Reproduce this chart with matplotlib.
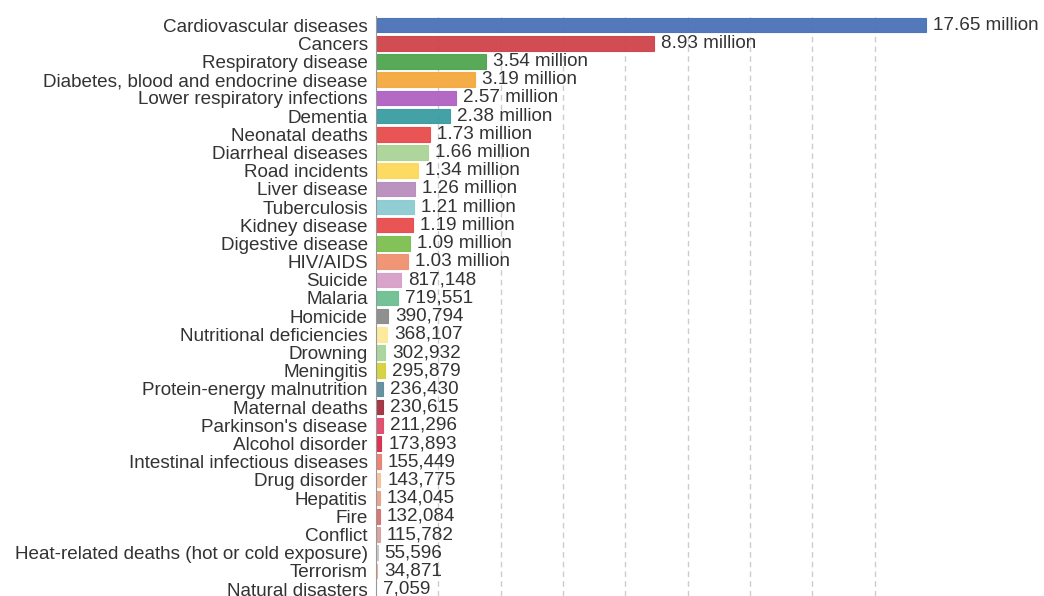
import matplotlib
matplotlib.use("Agg")
import matplotlib.pyplot as plt
import numpy as np

# Causes of death, largest first
causes = [
    "Cardiovascular diseases", "Cancers", "Respiratory disease",
    "Diabetes, blood and endocrine disease", "Lower respiratory infections",
    "Dementia", "Neonatal deaths", "Diarrheal diseases", "Road incidents",
    "Liver disease", "Tuberculosis", "Kidney disease", "Digestive disease",
    "HIV/AIDS", "Suicide", "Malaria", "Homicide", "Nutritional deficiencies",
    "Drowning", "Meningitis", "Protein-energy malnutrition", "Maternal deaths",
    "Parkinson's disease", "Alcohol disorder", "Intestinal infectious diseases",
    "Drug disorder", "Hepatitis", "Fire", "Conflict",
    "Heat-related deaths (hot or cold exposure)", "Terrorism", "Natural disasters",
]
deaths = [
    17650000, 8930000, 3540000, 3190000, 2570000, 2380000, 1730000, 1660000,
    1340000, 1260000, 1210000, 1190000, 1090000, 1030000, 817148, 719551,
    390794, 368107, 302932, 295879, 236430, 230615, 211296, 173893, 155449,
    143775, 134045, 132084, 115782, 55596, 34871, 7059,
]
bar_colors = [
    "#4a72b8", "#d0424a", "#4fa64f", "#f5a93e", "#b062c2", "#3a9ca0",
    "#e84b4b", "#aad396", "#fdd85a", "#b98cbd", "#8ccbd1", "#e84b4b",
    "#7cbf4f", "#f09070", "#d69fc8", "#6cbf8f", "#8a8a8a", "#fde99a",
    "#a8d49a", "#d4d13a", "#5f8c9a", "#a0303e", "#e04a6a", "#d82a4a",
    "#e88070", "#f8c09a", "#e8a088", "#d87070", "#d8a0a0", "#c8c8c8",
    "#f0b090", "#d0d0d0",
]


def fmt(v):
    # millions get a short label, the rest use thousands separators
    if v >= 1e6:
        return f"{v / 1e6:.2f} million"
    return f"{v:,}"


plt.rcParams["font.family"] = ["Liberation Sans", "DejaVu Sans"]
fsize = 13.6

fig = plt.figure(figsize=(10.44, 5.96), dpi=100)
ax = fig.add_axes([376 / 1044, 0, 558 / 1044, 580 / 596])

y = np.arange(len(causes))
ax.barh(y, deaths, height=0.8, color=bar_colors, alpha=0.95,
        edgecolor=bar_colors, linewidth=0.8, zorder=3)

for yi, v in zip(y, deaths):
    ax.annotate(fmt(v), (v, yi), xytext=(5, 0), textcoords="offset points",
                va="center", ha="left", fontsize=fsize, color="#333333",
                zorder=4, annotation_clip=False)

ax.set_yticks(y)
ax.set_yticklabels(causes, fontsize=fsize, color="#333333")
ax.set_ylim(31.38, -0.5)
ax.set_xlim(0, 17.9e6)
ax.set_xticks(np.arange(2e6, 17e6, 2e6))
ax.set_xticklabels([])
ax.tick_params(axis="both", length=0, pad=6)
ax.grid(axis="x", color="#cccccc", linestyle=(0, (4, 3)), linewidth=1, zorder=0)

for side in ["top", "right", "bottom"]:
    ax.spines[side].set_visible(False)
ax.spines["left"].set_color("#999999")
ax.spines["left"].set_zorder(5)

fig.savefig("out.png", dpi=100)
